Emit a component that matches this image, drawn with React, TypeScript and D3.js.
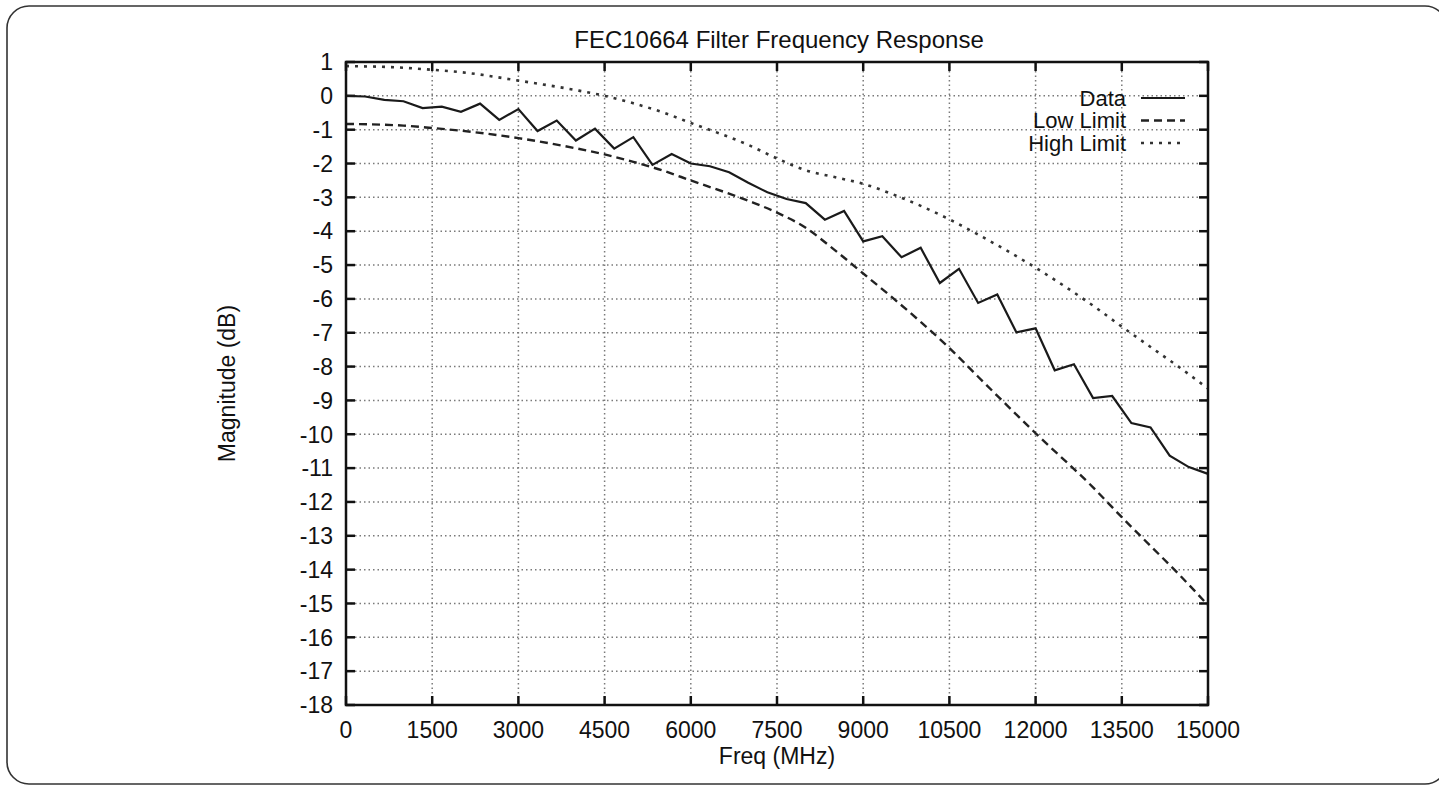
import React from 'react';
import * as d3 from 'd3';

// tick labels
const freqTicks = [0, 1500, 3000, 4500, 6000, 7500, 9000, 10500, 12000, 13500, 15000];
const magTicks = [1, 0, -1, -2, -3, -4, -5, -6, -7, -8, -9, -10, -11, -12, -13, -14, -15, -16, -17, -18];

// measured response, one point every ~333 MHz
const dataFreq = [
  0, 333, 667, 1000, 1333, 1667, 2000, 2333, 2667, 3000, 3333, 3667, 4000, 4333, 4667, 5000,
  5333, 5667, 6000, 6333, 6667, 7000, 7333, 7667, 8000, 8333, 8667, 9000, 9333, 9667, 10000,
  10333, 10667, 11000, 11333, 11667, 12000, 12333, 12667, 13000, 13333, 13667, 14000, 14333,
  14667, 15000,
];
const dataMag = [
  0, -0.02, -0.12, -0.16, -0.36, -0.32, -0.47, -0.23, -0.71, -0.39, -1.04, -0.73, -1.32, -0.97,
  -1.56, -1.22, -2.04, -1.72, -2.0, -2.08, -2.26, -2.57, -2.85, -3.05, -3.17, -3.66, -3.4, -4.3,
  -4.15, -4.77, -4.49, -5.53, -5.11, -6.12, -5.87, -6.99, -6.87, -8.11, -7.93, -8.93, -8.87,
  -9.67, -9.8, -10.63, -10.97, -11.17,
];

// spec limits
const limitFreq = [
  0, 1000, 1500, 2000, 3000, 4000, 4500, 5000, 5500, 6000, 7000, 7500, 8000, 8500, 9000, 9500,
  10000, 10500, 11000, 12000, 13000, 13500, 14000, 14500, 15000,
];
const lowLimit = [
  -0.83, -0.88, -0.95, -1.03, -1.25, -1.55, -1.73, -1.95, -2.2, -2.5, -3.1, -3.45, -3.9, -4.55,
  -5.25, -5.95, -6.68, -7.45, -8.3, -9.97, -11.57, -12.45, -13.3, -14.15, -15.05,
];
const highLimit = [
  0.88, 0.83, 0.77, 0.7, 0.45, 0.17, 0.0, -0.22, -0.48, -0.8, -1.45, -1.85, -2.2, -2.4, -2.6,
  -2.9, -3.25, -3.65, -4.1, -5.08, -6.2, -6.82, -7.42, -8.02, -8.65,
];

const legendLabels = ['Data', 'Low Limit', 'High Limit'];

const W = 1439;
const H = 787;
const plot = { left: 346, right: 1208, top: 62, bottom: 705 };
const FONT = '"Liberation Sans", Arial, sans-serif';

export default function App() {
  const x = d3.scaleLinear().domain([0, 15000]).range([plot.left, plot.right]);
  const y = d3.scaleLinear().domain([1, -18]).range([plot.top, plot.bottom]);

  const dataLine = d3
    .line<number>()
    .x((_, i) => x(dataFreq[i]))
    .y((d) => y(d));
  const limitLine = d3
    .line<number>()
    .x((_, i) => x(limitFreq[i]))
    .y((d) => y(d))
    .curve(d3.curveMonotoneX);

  const styles = [
    { dash: undefined, width: 2.2, color: '#1a1a1a' },
    { dash: '8,5', width: 2.4, color: '#222' },
    { dash: '3,6', width: 2.6, color: '#333' },
  ];
  const tickLen = 9;

  return (
    <svg
      width={W}
      height={H}
      style={{ position: 'absolute', left: 0, top: 0, background: '#fff' }}
      fontFamily={FONT}
    >
      <rect x={7} y={6} width={1440} height={778} rx={22} fill="none" stroke="#333" strokeWidth={1.6} />

      {/* grid */}
      <g stroke="#7a7a7a" strokeWidth={1.5} strokeDasharray="1.5,3">
        {magTicks.slice(1, -1).map((t) => (
          <line key={'gy' + t} x1={plot.left} x2={plot.right} y1={y(t)} y2={y(t)} />
        ))}
        {freqTicks.slice(1, -1).map((t) => (
          <line key={'gx' + t} x1={x(t)} x2={x(t)} y1={plot.top} y2={plot.bottom} />
        ))}
      </g>

      {/* ticks on all four sides */}
      <g stroke="#111" strokeWidth={2.5}>
        {magTicks.map((t) => (
          <g key={'ty' + t}>
            <line x1={plot.left} x2={plot.left + tickLen} y1={y(t)} y2={y(t)} />
            <line x1={plot.right} x2={plot.right - tickLen} y1={y(t)} y2={y(t)} />
          </g>
        ))}
        {freqTicks.map((t) => (
          <g key={'tx' + t}>
            <line x1={x(t)} x2={x(t)} y1={plot.bottom} y2={plot.bottom - tickLen} />
            <line x1={x(t)} x2={x(t)} y1={plot.top} y2={plot.top + tickLen} />
          </g>
        ))}
      </g>

      {/* series */}
      <path d={limitLine(lowLimit) || ''} fill="none" stroke={styles[1].color} strokeWidth={styles[1].width} strokeDasharray={styles[1].dash} />
      <path d={limitLine(highLimit) || ''} fill="none" stroke={styles[2].color} strokeWidth={styles[2].width} strokeDasharray={styles[2].dash} />
      <path d={dataLine(dataMag) || ''} fill="none" stroke={styles[0].color} strokeWidth={styles[0].width} strokeLinejoin="miter" />

      {/* frame */}
      <rect
        x={plot.left}
        y={plot.top}
        width={plot.right - plot.left}
        height={plot.bottom - plot.top}
        fill="none"
        stroke="#111"
        strokeWidth={2.5}
      />

      {/* tick labels */}
      <g fontSize={23} fill="#111">
        {magTicks.map((t) => (
          <text key={'ly' + t} x={plot.left - 13} y={y(t)} dy="0.36em" textAnchor="end">
            {t}
          </text>
        ))}
        {freqTicks.map((t) => (
          <text key={'lx' + t} x={x(t)} y={738} textAnchor="middle">
            {t}
          </text>
        ))}
      </g>

      {/* titles */}
      <text x={(plot.left + plot.right) / 2 + 2} y={48} textAnchor="middle" fontSize={24} fill="#111">
        FEC10664 Filter Frequency Response
      </text>
      <text x={(plot.left + plot.right) / 2} y={764} textAnchor="middle" fontSize={23} fill="#111">
        Freq (MHz)
      </text>
      <text
        transform={`translate(235,${(plot.top + plot.bottom) / 2}) rotate(-90)`}
        textAnchor="middle"
        fontSize={23}
        fill="#111"
      >
        Magnitude (dB)
      </text>

      {/* legend */}
      <g fontSize={22} fill="#111">
        {legendLabels.map((label, i) => {
          const cy = 98 + i * 22.5;
          const s = styles[i];
          return (
            <g key={label}>
              <text x={1126} y={cy} dy="0.36em" textAnchor="end">
                {label}
              </text>
              <line x1={1141} x2={1185} y1={cy} y2={cy} stroke={s.color} strokeWidth={s.width} strokeDasharray={s.dash} />
            </g>
          );
        })}
      </g>
    </svg>
  );
}
